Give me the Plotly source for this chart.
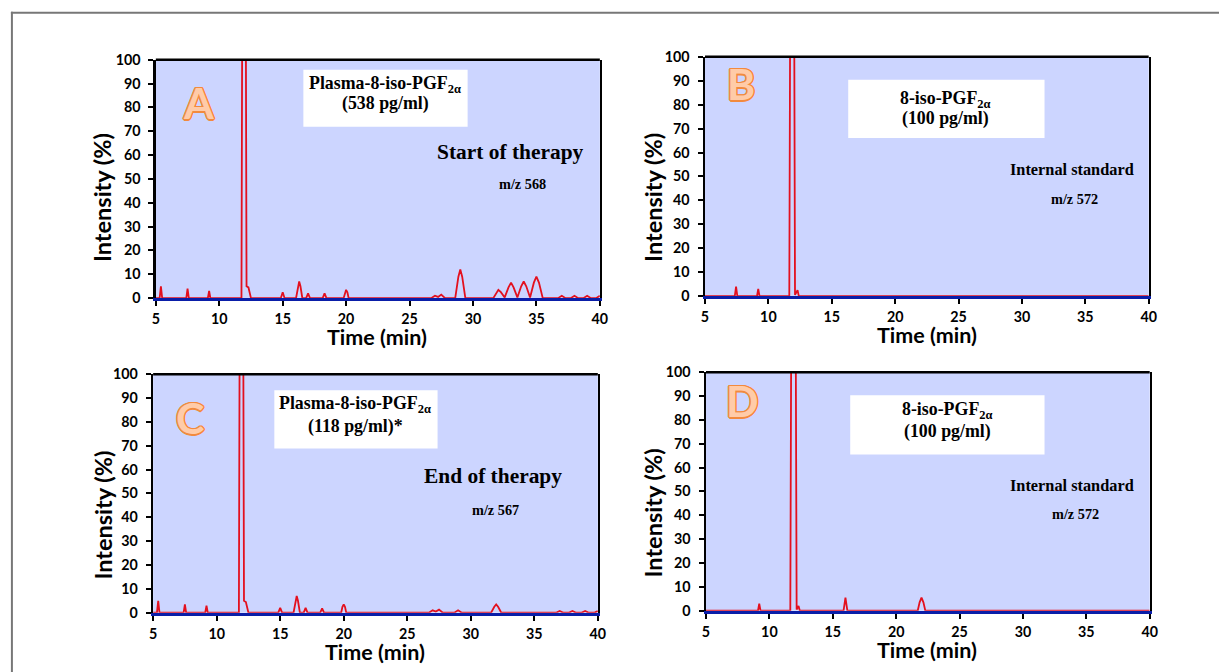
import plotly.graph_objects as go

W, H = 1219, 672

# ---------------- data (time in min, intensity in %) ----------------
a_time = [5.0, 5.3, 5.4, 5.5, 7.4, 7.5, 7.6, 9.1, 9.2, 9.3,
          11.75, 11.95, 12.15, 12.3, 12.5,
          14.85, 15.0, 15.15, 16.05, 16.2, 16.3, 16.4, 16.55, 16.85, 17.0, 17.15,
          18.15, 18.3, 18.45, 19.8, 19.9, 20.0, 20.1, 20.2,
          26.7, 27.0, 27.25, 27.5, 27.8,
          28.6, 28.85, 29.0, 29.15, 29.4,
          31.6, 31.85, 32.0, 32.2, 32.5, 32.8, 33.0, 33.2, 33.5, 33.8, 34.0, 34.2,
          34.5, 34.8, 35.0, 35.2, 35.5,
          36.7, 37.0, 37.3, 37.7, 38.0, 38.3, 38.7, 39.0, 39.3, 39.7, 40.0]
a_int = [0, 0, 5, 0, 0, 4, 0, 0, 3, 0,
         0, 400, 5, 4.5, 0,
         0, 2.5, 0, 0, 5, 7, 5, 0, 0, 2, 0,
         0, 2, 0, 0, 2.5, 3.5, 2.5, 0,
         0, 1, 0.5, 1.5, 0,
         0, 9, 12, 9, 0,
         0, 2.5, 3.5, 2.5, 0.3, 4.5, 6.5, 4.5, 0.3, 5, 7, 5,
         0.3, 6.5, 9, 6.5, 0,
         0, 1, 0, 0, 1, 0, 0, 1, 0, 0, 1]

b_time = [5.0, 7.35, 7.45, 7.55, 9.1, 9.2, 9.3,
          11.65, 11.88, 12.1, 12.3, 12.4, 40.0]
b_int = [0, 0, 4, 0, 0, 3, 0,
         0, 400, 0.5, 2.5, 0, 0]

c_time = [5.0, 5.3, 5.4, 5.5, 7.4, 7.5, 7.6, 9.1, 9.2, 9.3,
          11.75, 11.95, 12.15, 12.3, 12.5,
          14.85, 15.0, 15.15, 16.05, 16.2, 16.3, 16.4, 16.55, 16.85, 17.0, 17.15,
          18.15, 18.3, 18.45, 19.8, 19.9, 20.0, 20.1, 20.2,
          26.7, 27.0, 27.25, 27.5, 27.8,
          28.7, 29.0, 29.3,
          31.6, 31.85, 32.0, 32.15, 32.4,
          36.7, 37.0, 37.3, 37.7, 38.0, 38.3, 38.7, 39.0, 39.3, 39.7, 40.0]
c_int = [0, 0, 5, 0, 0, 3.5, 0, 0, 3, 0,
         0, 400, 5, 4.5, 0,
         0, 2, 0, 0, 5, 7, 5, 0, 0, 2, 0,
         0, 1.8, 0, 0, 2.5, 3.5, 2.5, 0,
         0, 1, 0.5, 1.3, 0,
         0, 1, 0,
         0, 2.5, 3.5, 2.5, 0,
         0, 0.7, 0, 0, 0.7, 0, 0, 0.7, 0, 0, 0.7]

d_time = [5.0, 9.1, 9.2, 9.3,
          11.65, 11.9, 12.15, 12.3, 12.4,
          15.85, 16.0, 16.15,
          21.7, 21.85, 22.0, 22.15, 22.3, 40.0]
d_int = [0, 0, 3, 0,
         0, 400, 0.5, 2, 0,
         0, 5.5, 0,
         0, 3.5, 5.5, 3.5, 0, 0]

x_ticks = [5, 10, 15, 20, 25, 30, 35, 40]
y_ticks = [0, 10, 20, 30, 40, 50, 60, 70, 80, 90, 100]

panel_letters = ["A", "B", "C", "D"]
box_line1 = ["Plasma-8-iso-PGF<sub>2α</sub>", "8-iso-PGF<sub>2α</sub>",
             "Plasma-8-iso-PGF<sub>2α</sub>", "8-iso-PGF<sub>2α</sub>"]
box_line2 = ["(538 pg/ml)", "(100 pg/ml)", "(118 pg/ml)*", "(100 pg/ml)"]
big_labels = ["Start of therapy", "Internal standard", "End of therapy", "Internal standard"]
mz_labels = ["m/z 568", "m/z 572", "m/z 567", "m/z 572"]

# ---------------- layout geometry (target pixels) ----------------
# the captured page comes out slightly scaled/offset; compensate
SX, BX = 0.9886, 4.1
SY, BY = 0.973, 9.35
FS = 1 / 0.98


def px(x):
    return ((x - BX) / SX) / W


def py(y):
    return 1 - ((y - BY) / SY) / H


panels = [
    dict(x0=155.7, x1=599, y0=60, y1=298),
    dict(x0=704, x1=1147, y0=57, y1=296),
    dict(x0=153, x1=597, y0=374, y1=612),
    dict(x0=705, x1=1148, y0=372, y1=610),
]

series = [(a_time, a_int), (b_time, b_int), (c_time, c_int), (d_time, d_int)]

BG = "#CCD5FF"
RED = "#E3101E"
BLUE = "#0A1EA8"
ORANGE = "#F28A3E"
PEACH = "#FFCBA8"
SERIF = "Liberation Serif"
SANS = "Lato"

fig = go.Figure()
layout = dict(width=W, height=H, margin=dict(l=0, r=0, t=0, b=0),
              paper_bgcolor="white", showlegend=False, hovermode=False)
shapes = []
annotations = []

# outer frame (left + top)
shapes.append(dict(type="line", xref="paper", yref="paper",
                   x0=px(12), x1=px(12), y0=py(12), y1=-0.05,
                   line=dict(color="#777777", width=2)))
shapes.append(dict(type="line", xref="paper", yref="paper",
                   x0=px(11), x1=1.05, y0=py(13), y1=py(13),
                   line=dict(color="#777777", width=2)))

# text positions (target pixels)
letter_pos = [(198, 103), (740, 84), (190, 417), (741, 400)]
box_rect = [(303, 70, 467, 127), (847, 80, 1043, 138), (274, 390, 437, 448), (849, 395, 1043, 454)]
line_pos = [((385, 85), (385, 104)), ((944, 100), (944, 119)),
            ((355, 404), (355, 426)), ((946, 410), (946, 431))]
big_pos = [(510, 152, 21), (1070, 170, 16), (492, 476, 21), (1070, 485, 16)]
mz_pos = [(522, 184, 14), (1073, 199, 14), (495, 509, 14), (1074, 513, 14)]
ytitle_pos = [(102, 198), (652, 197), (102, 515), (652, 512)]
xtitle_pos = [(377, 337), (926, 335), (375, 651), (926, 649)]

shadow = ", ".join(f"{dx}px {dy}px 0 {ORANGE}" for dx, dy in
                   [(-1.5, 0), (1.5, 0), (0, -1.5), (0, 1.5), (-1, -1), (1, -1), (-1, 1), (1, 1)])

for i, p in enumerate(panels):
    n = "" if i == 0 else str(i + 1)
    xa, ya = "x" + n, "y" + n
    t, v = series[i]
    fig.add_trace(go.Scatter(x=t, y=v, xaxis=xa, yaxis=ya, mode="lines",
                             line=dict(color=RED, width=1.8), hoverinfo="skip"))
    layout["xaxis" + n] = dict(
        domain=[px(p["x0"]), px(p["x1"])], anchor=ya, range=[5, 40],
        tickvals=x_ticks, ticks="outside", ticklen=5, tickwidth=2, tickcolor="black",
        showline=True, linecolor=BLUE, linewidth=3, showgrid=False, zeroline=False,
        tickfont=dict(family=SANS, size=14 * FS, color="black", weight="bold"),
        ticklabelstandoff=1, fixedrange=True)
    layout["yaxis" + n] = dict(
        domain=[py(p["y1"]), py(p["y0"])], anchor=xa, range=[0, 100],
        tickvals=y_ticks, ticks="outside", ticklen=5, tickwidth=2, tickcolor="black",
        showline=True, linecolor="black", linewidth=2.5, mirror=True,
        showgrid=False, zeroline=False,
        tickfont=dict(family=SANS, size=14 * FS, color="black", weight="bold"),
        ticklabelstandoff=5, fixedrange=True)
    # plot background
    shapes.append(dict(type="rect", xref=xa + " domain", yref=ya + " domain",
                       x0=0, x1=1, y0=0, y1=1, layer="below",
                       fillcolor=BG, line=dict(width=0)))
    # top border
    shapes.append(dict(type="line", xref=xa + " domain", yref=ya + " domain",
                       x0=0, x1=1, y0=1, y1=1, layer="above",
                       line=dict(color="black", width=2.5)))
    # white label box
    bx0, by0, bx1, by1 = box_rect[i]
    shapes.append(dict(type="rect", xref="paper", yref="paper",
                       x0=px(bx0), x1=px(bx1), y0=py(by1), y1=py(by0), layer="above",
                       fillcolor="white", line=dict(width=0)))
    # texts
    lx, ly = letter_pos[i]
    annotations.append(dict(xref="paper", yref="paper", x=px(lx), y=py(ly),
                            text=panel_letters[i], showarrow=False,
                            xanchor="center", yanchor="middle",
                            font=dict(family=SANS, size=42 * FS, color=PEACH, weight="bold",
                                      shadow=shadow)))
    for (tx, ty), txt in zip(line_pos[i], [box_line1[i], box_line2[i]]):
        annotations.append(dict(xref="paper", yref="paper", x=px(tx), y=py(ty),
                                text=txt, showarrow=False, xanchor="center", yanchor="middle",
                                font=dict(family=SERIF, size=17.5 * FS, color="black", weight="bold")))
    gx, gy, gs = big_pos[i]
    annotations.append(dict(xref="paper", yref="paper", x=px(gx), y=py(gy),
                            text=big_labels[i], showarrow=False, xanchor="center", yanchor="middle",
                            font=dict(family=SERIF, size=gs * FS, color="black", weight="bold")))
    mx, my, ms = mz_pos[i]
    annotations.append(dict(xref="paper", yref="paper", x=px(mx), y=py(my),
                            text=mz_labels[i], showarrow=False, xanchor="center", yanchor="middle",
                            font=dict(family=SERIF, size=ms * FS, color="black", weight="bold")))
    yx, yy = ytitle_pos[i]
    annotations.append(dict(xref="paper", yref="paper", x=px(yx), y=py(yy),
                            text="Intensity (%)", showarrow=False, textangle=-90,
                            xanchor="center", yanchor="middle",
                            font=dict(family=SANS, size=23.5, color="black", weight="bold")))
    tx, ty = xtitle_pos[i]
    annotations.append(dict(xref="paper", yref="paper", x=px(tx), y=py(ty),
                            text="Time (min)", showarrow=False,
                            xanchor="center", yanchor="middle",
                            font=dict(family=SANS, size=21.5, color="black", weight="bold")))

layout["shapes"] = shapes
layout["annotations"] = annotations
layout["plot_bgcolor"] = "rgba(0,0,0,0)"
fig.update_layout(**layout)

page_fix = ("document.documentElement.style.margin='0';"
            "document.body.style.margin='0';document.body.style.padding='0';"
            "document.documentElement.style.overflow='hidden';"
            "document.body.style.overflow='hidden';")
fig.write_html("out.html", post_script=page_fix,
               config={"displayModeBar": False, "responsive": False, "staticPlot": True})
